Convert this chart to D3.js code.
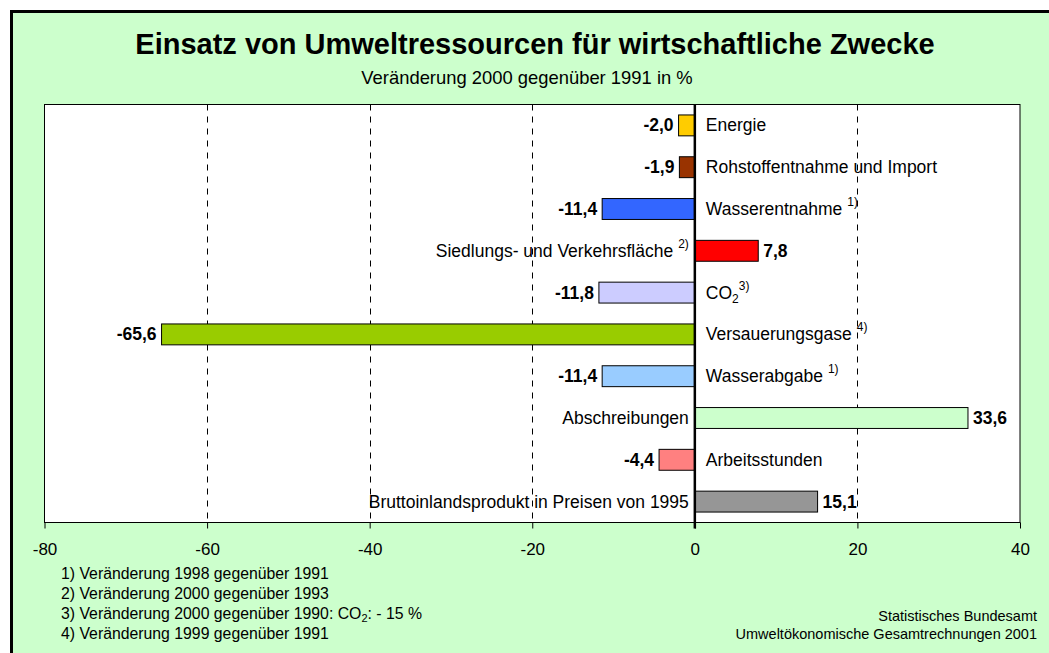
<!DOCTYPE html>
<html><head><meta charset="utf-8">
<script src="https://cdn.jsdelivr.net/npm/d3@7"></script>
<style>body{margin:0;background:#fff}svg{display:block;font-family:"Liberation Sans",Arial,sans-serif}</style>
</head><body><svg id="c" width="1049" height="653"></svg>
<script>
const categories = ["Energie","Rohstoffentnahme und Import","Wasserentnahme","Siedlungs- und Verkehrsfläche","CO2","Versauerungsgase","Wasserabgabe","Abschreibungen","Arbeitsstunden","Bruttoinlandsprodukt in Preisen von 1995"];
const values = [-2.0,-1.9,-11.4,7.8,-11.8,-65.6,-11.4,33.6,-4.4,15.1];
const footnoteMarks = ["","","1)","2)","3)","4)","1)","","",""];
const colors = ["#FFCC00","#993300","#3366FF","#FF0000","#CCCCFF","#99CC00","#99CCFF","#CCFFCC","#FF8080","#969696"];
const ticks = [-80,-60,-40,-20,0,20,40];
const footnotes = ["1) Veränderung 1998 gegenüber 1991","2) Veränderung 2000 gegenüber 1993","3) Veränderung 2000 gegenüber 1990: CO|2|: - 15 %","4) Veränderung 1999 gegenüber 1991"];
const source = ["Statistisches Bundesamt","Umweltökonomische Gesamtrechnungen 2001"];

const svg = d3.select("#c");
svg.append("rect").attr("x",11.5).attr("y",11.5).attr("width",1100).attr("height",700)
  .attr("fill","#CCFFCC").attr("stroke","#000").attr("stroke-width",3);

svg.append("text").attr("x",535).attr("y",54).attr("text-anchor","middle")
  .attr("font-size",29).attr("font-weight","bold").text("Einsatz von Umweltressourcen für wirtschaftliche Zwecke");
svg.append("text").attr("x",527).attr("y",84).attr("text-anchor","middle")
  .attr("font-size",18.4).text("Veränderung 2000 gegenüber 1991 in %");

const L=44.5, R=1020, T=104.5, B=522.5;
const x = d3.scaleLinear().domain([-80,40]).range([L,R]);
const y = d3.scaleBand().domain(categories).range([T,B]).paddingInner(0.5).paddingOuter(0.25);

svg.append("rect").attr("x",L).attr("y",T).attr("width",R-L).attr("height",B-T).attr("fill","#fff");

// grid
svg.append("g").selectAll("line").data(ticks.filter(t=>t!==0 && t!==-80 && t!==40)).join("line")
  .attr("x1",d=>Math.round(x(d))+0.5).attr("x2",d=>Math.round(x(d))+0.5).attr("y1",T).attr("y2",B)
  .attr("stroke","#000").attr("stroke-dasharray","6,6");

svg.append("rect").attr("x",L).attr("y",T).attr("width",R-L).attr("height",B-T).attr("fill","none").attr("stroke","#000").attr("stroke-width",1);

// axis
const ax = svg.append("g").attr("transform",`translate(0,${B})`)
  .call(d3.axisBottom(x).tickValues(ticks).tickSize(6).tickPadding(14).tickFormat(d=>d));
ax.select(".domain").remove();
ax.selectAll("text").attr("font-size",17).attr("font-family","Liberation Sans, Arial, sans-serif").attr("fill","#000");
ax.selectAll("line").attr("stroke","#000");

// bars
svg.append("g").selectAll("rect").data(categories).join("rect")
  .attr("x",(d,i)=>x(Math.min(0,values[i]))).attr("width",(d,i)=>Math.abs(x(values[i])-x(0)))
  .attr("y",d=>y(d)).attr("height",y.bandwidth())
  .attr("fill",(d,i)=>colors[i]).attr("stroke","#000").attr("stroke-width",1);

// zero line
svg.append("line").attr("x1",x(0)).attr("x2",x(0)).attr("y1",T).attr("y2",B+6).attr("stroke","#000").attr("stroke-width",2.5);

// value labels
const fmt = v => d3.format(".1f")(v).replace(".",",").replace("−","-");
svg.append("g").selectAll("text").data(categories).join("text")
  .attr("x",(d,i)=>values[i]<0 ? x(values[i])-5 : x(values[i])+5)
  .attr("y",d=>y(d)+y.bandwidth()/2+6)
  .attr("text-anchor",(d,i)=>values[i]<0?"end":"start")
  .attr("font-size",17.5).attr("font-weight","bold").text((d,i)=>fmt(values[i]));

// category labels
const cl = svg.append("g").selectAll("text").data(categories).join("text")
  .attr("x",(d,i)=>values[i]<0 ? x(0)+11 : x(0)-6)
  .attr("y",d=>y(d)+y.bandwidth()/2+6)
  .attr("text-anchor",(d,i)=>values[i]<0?"start":"end")
  .attr("font-size",17.5);
cl.each(function(d,i){
  const t=d3.select(this);
  if(d==="CO2"){
    t.append("tspan").text("CO");
    t.append("tspan").attr("font-size",12).attr("dy",4).text("2");
    t.append("tspan").attr("font-size",12).attr("dy",-13).text("3)");
  } else {
    t.append("tspan").text(d);
    if(footnoteMarks[i]) t.append("tspan").attr("font-size",12).attr("dy",-9).attr("dx",5).text(footnoteMarks[i]);
  }
});

// footnotes
footnotes.forEach((f,i)=>{
  const t=svg.append("text").attr("x",61).attr("y",579+i*20).attr("font-size",15.8);
  const parts=f.split("|");
  t.append("tspan").text(parts[0]);
  if(parts.length>1){
    t.append("tspan").attr("font-size",11).attr("dy",3).text(parts[1]);
    t.append("tspan").attr("dy",-3).text(parts[2]);
  }
});
source.forEach((s,i)=>{
  svg.append("text").attr("x",1037).attr("y",621+i*18).attr("text-anchor","end").attr("font-size",14.5).text(s);
});
</script></body></html>
